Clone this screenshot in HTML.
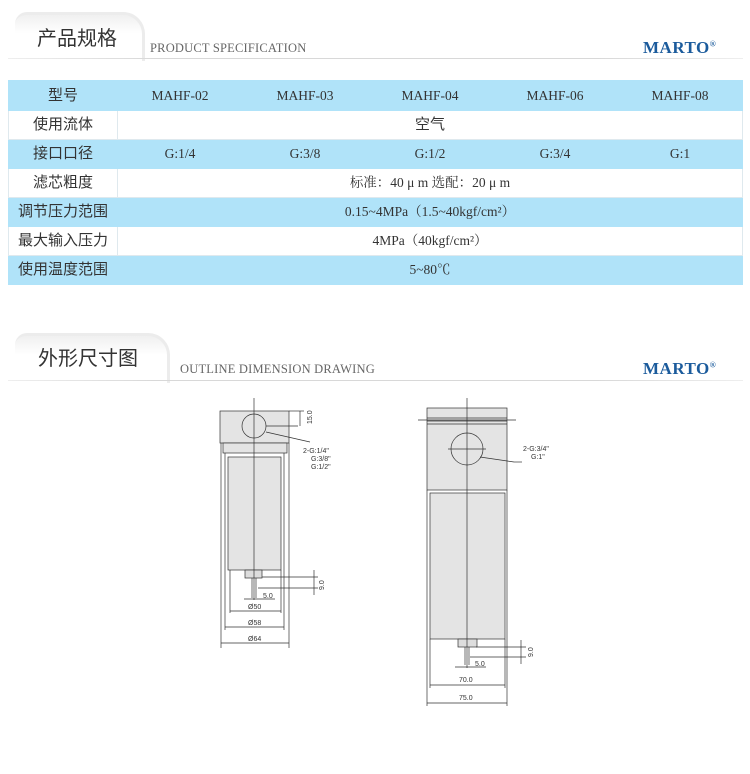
<!DOCTYPE html>
<html><head><meta charset="utf-8"><style>
body{margin:0;width:750px;height:774px;background:#fff;position:relative;font-family:"Liberation Serif","Noto Serif CJK SC",serif;overflow:hidden}
.abs{position:absolute}
.tab{position:absolute;border-radius:12px 22px 0 0;background:linear-gradient(#f0f0f0,#fff 40%);border-top:3px solid #ececec;border-right:3px solid #ececec}
.ttl{position:absolute;font-family:"Liberation Sans","Noto Sans CJK SC",sans-serif;font-size:20px;color:#333}
.sub{position:absolute;font-size:12.5px;color:#666;letter-spacing:0.2px}
.marto{position:absolute;font-weight:bold;font-size:17px;color:#1b5b9c;letter-spacing:0.5px}
.marto sup{font-size:8px}
.hl{position:absolute;left:8px;width:735px;height:1px;background:linear-gradient(90deg,#eee,#d8d8d8 20%,#d8d8d8 80%,#eee)}
table{position:absolute;left:8px;top:80px;width:735px;border-collapse:collapse;font-size:13.5px;color:#333;table-layout:fixed}
td{text-align:center;padding:0;border:1px solid #dfe9ee;line-height:16px}
tr{height:29px}
td.h{font-family:"Liberation Sans","Noto Sans CJK SC",sans-serif;font-size:15px;width:108px}
tr.b td{background:#b0e3f9;border-color:#b0e3f9}
tr.w td{background:#fff}
</style></head><body>
<div class="tab" style="left:15px;top:12px;width:127px;height:46px"></div>
<div class="ttl" style="left:37px;top:22px">产品规格</div>
<div class="sub" style="left:150px;top:41px">PRODUCT SPECIFICATION</div>
<div class="marto" style="left:643px;top:38px">MARTO<sup>®</sup></div>
<div class="hl" style="top:58px"></div>

<table>
<tr class="b" style="height:30px"><td class="h">型号</td><td>MAHF-02</td><td>MAHF-03</td><td>MAHF-04</td><td>MAHF-06</td><td>MAHF-08</td></tr>
<tr class="w"><td class="h">使用流体</td><td colspan="5" style="font-family:'Liberation Sans','Noto Sans CJK SC',sans-serif;font-size:15px">空气</td></tr>
<tr class="b"><td class="h">接口口径</td><td>G:1/4</td><td>G:3/8</td><td>G:1/2</td><td>G:3/4</td><td>G:1</td></tr>
<tr class="w"><td class="h">滤芯粗度</td><td colspan="5">标准：40 μ m 选配：20 μ m</td></tr>
<tr class="b"><td class="h">调节压力范围</td><td colspan="5">0.15~4MPa（1.5~40kgf/cm²）</td></tr>
<tr class="w"><td class="h">最大输入压力</td><td colspan="5">4MPa（40kgf/cm²）</td></tr>
<tr class="b"><td class="h">使用温度范围</td><td colspan="5">5~80℃</td></tr>
</table>

<div class="tab" style="left:15px;top:333px;width:152px;height:47px"></div>
<div class="ttl" style="left:38px;top:342px">外形尺寸图</div>
<div class="sub" style="left:180px;top:362px">OUTLINE DIMENSION DRAWING</div>
<div class="marto" style="left:643px;top:359px">MARTO<sup>®</sup></div>
<div class="hl" style="top:380px"></div>

<svg class="abs" style="left:0;top:0" width="750" height="774" font-family="Liberation Sans,sans-serif" font-size="7" fill="none" stroke="#333" stroke-width="0.7">
<rect x="220" y="411" width="69" height="32" fill="#e4e4e4"/>
<rect x="223" y="443" width="64" height="10" fill="#e4e4e4"/>
<rect x="228" y="457" width="53" height="113" fill="#e4e4e4"/>
<rect x="245" y="570" width="17" height="8" fill="#ddd"/>
<line x1="252" y1="578" x2="252" y2="598"/><line x1="256" y1="578" x2="256" y2="598"/>
<circle cx="254" cy="426" r="12" fill="#e4e4e4"/>
<line x1="254" y1="398" x2="254" y2="600"/>
<line x1="221" y1="443" x2="221" y2="648"/><line x1="289" y1="443" x2="289" y2="648"/>
<line x1="225" y1="453" x2="225" y2="630"/><line x1="284" y1="453" x2="284" y2="630"/>
<line x1="230" y1="570" x2="230" y2="613"/><line x1="281" y1="570" x2="281" y2="613"/>
<line x1="266" y1="426" x2="298" y2="426"/><line x1="289" y1="411" x2="304" y2="411"/>
<line x1="300" y1="411" x2="300" y2="426"/>
<line x1="266" y1="432" x2="310" y2="442"/>
<line x1="262" y1="577" x2="318" y2="577"/><line x1="258" y1="588" x2="318" y2="588"/><line x1="314" y1="570" x2="314" y2="595"/>
<line x1="244" y1="599" x2="275" y2="599"/>
<line x1="230" y1="611" x2="281" y2="611"/><line x1="225" y1="627" x2="284" y2="627"/><line x1="221" y1="643" x2="289" y2="643"/>
<g fill="#333" stroke="none">
<text x="303" y="453">2-G:1/4"</text><text x="311" y="461">G:3/8"</text><text x="311" y="469">G:1/2"</text>
<text x="263" y="598">5.0</text><text x="248" y="609">Ø50</text><text x="248" y="625">Ø58</text><text x="248" y="641">Ø64</text>
<text transform="translate(312,424) rotate(-90)">15.0</text><text transform="translate(324,590) rotate(-90)">9.0</text>
</g>
<rect x="427" y="408" width="80" height="82" fill="#e4e4e4"/>
<line x1="427" y1="418" x2="507" y2="418"/><line x1="427" y1="421" x2="507" y2="421"/><line x1="427" y1="424" x2="507" y2="424"/>
<line x1="418" y1="420" x2="516" y2="420"/>
<rect x="430" y="493" width="75" height="146" fill="#e4e4e4"/>
<rect x="458" y="639" width="19" height="8" fill="#ddd"/>
<line x1="465" y1="647" x2="465" y2="665"/><line x1="469" y1="647" x2="469" y2="665"/>
<circle cx="467" cy="449" r="16" fill="#e4e4e4"/>
<line x1="448" y1="449" x2="486" y2="449"/>
<line x1="467" y1="398" x2="467" y2="668"/>
<line x1="427" y1="490" x2="427" y2="706"/><line x1="507" y1="490" x2="507" y2="706"/>
<line x1="430" y1="639" x2="430" y2="688"/><line x1="505" y1="639" x2="505" y2="688"/>
<line x1="480" y1="457" x2="514" y2="462"/><line x1="514" y1="462" x2="522" y2="462"/>
<line x1="476" y1="647" x2="526" y2="647"/><line x1="470" y1="657" x2="526" y2="657"/><line x1="521" y1="640" x2="521" y2="664"/>
<line x1="455" y1="667" x2="486" y2="667"/>
<line x1="430" y1="685" x2="505" y2="685"/><line x1="427" y1="703" x2="507" y2="703"/>
<g fill="#333" stroke="none">
<text x="523" y="451">2-G:3/4"</text><text x="531" y="459">G:1"</text>
<text x="475" y="666">5.0</text><text x="459" y="682">70.0</text><text x="459" y="700">75.0</text>
<text transform="translate(533,657) rotate(-90)">9.0</text>
</g>
</svg>
</body></html>
